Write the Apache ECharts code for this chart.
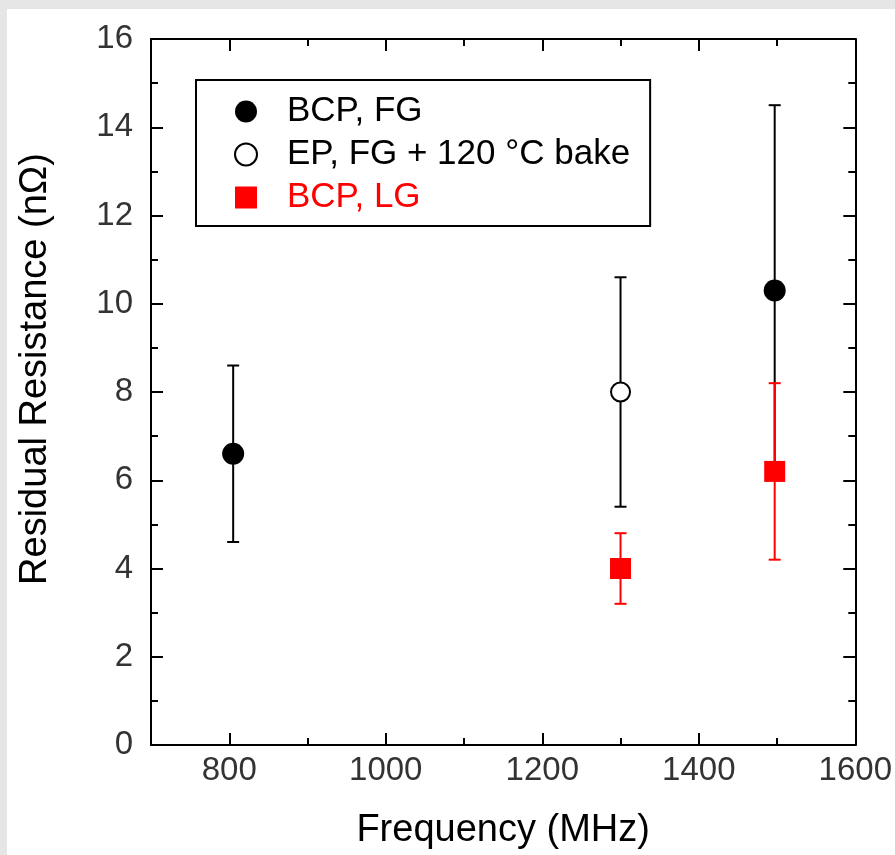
<!DOCTYPE html>
<html>
<head>
<meta charset="utf-8">
<script src="https://cdn.jsdelivr.net/npm/echarts@6/dist/echarts.min.js"></script>
<style>
  html, body { margin: 0; padding: 0; background: #e6e6e6; }
  #main { width: 895px; height: 855px; }
</style>
</head>
<body>
<div id="main"></div>
<script>
// BCP, fine grain
const bcpFgFreq = [805, 1497]
const bcpFgR = [6.6, 10.3]
const bcpFgErr = [2.0, 4.2]
// EP, fine grain + 120 C bake
const epFreq = [1300]
const epR = [8.0]
const epErr = [2.6]
// BCP, large grain
const lgFreq = [1300, 1497]
const lgR = [4.0, 6.2]
const lgErr = [0.8, 2.0]

const xMajor = [800, 1000, 1200, 1400, 1600]
const xMinor = [900, 1100, 1300, 1500]

const font = "'Liberation Sans', Arial, sans-serif"

const points = (xs, ys) => xs.map((x, i) => [x, ys[i]])
const bars = (xs, ys, es) => xs.map((x, i) => [x, ys[i] - es[i], ys[i] + es[i]])

function errorBar(color) {
    return function (params, api) {
        const x = api.value(0)
        const lo = api.coord([x, api.value(1)])
        const hi = api.coord([x, api.value(2)])
        const w = 6
        const style = { stroke: color, lineWidth: 2 }
        return {
            type: 'group',
            children: [
                { type: 'line', shape: { x1: lo[0], y1: lo[1], x2: hi[0], y2: hi[1] }, style },
                { type: 'line', shape: { x1: lo[0] - w, y1: lo[1], x2: lo[0] + w, y2: lo[1] }, style },
                { type: 'line', shape: { x1: hi[0] - w, y1: hi[1], x2: hi[0] + w, y2: hi[1] }, style },
            ]
        }
    }
}

const myChart = echarts.init(document.getElementById('main'))

const lineStyle = { color: '#000', width: 2 }
function xAxisOf(position, ticks, len, main) {
    return {
        type: 'value',
        position: position,
        min: 700,
        max: 1600,
        axisLine: { show: main, onZero: false, lineStyle },
        axisTick: { show: true, inside: true, length: len, customValues: ticks, lineStyle },
        axisLabel: {
            show: main && position === 'bottom',
            customValues: ticks,
            formatter: (v) => String(v),
            fontFamily: font,
            fontSize: 33,
            color: '#333',
            margin: 9,
        },
        splitLine: { show: false },
    }
}
function yAxisOf(position) {
    return {
        type: 'value',
        position: position,
        min: 0,
        max: 16,
        interval: 2,
        axisLine: { show: true, onZero: false, lineStyle },
        axisTick: { show: true, inside: true, length: 12, lineStyle },
        minorTick: { show: true, splitNumber: 2, length: 7, lineStyle },
        axisLabel: {
            show: position === 'left',
            fontFamily: font,
            fontSize: 33,
            color: '#333',
            margin: 18,
        },
        splitLine: { show: false },
    }
}

const xMain = xAxisOf('bottom', xMajor, 12, true)
xMain.name = 'Frequency (MHz)'
xMain.nameLocation = 'middle'
xMain.nameGap = 67
xMain.nameTextStyle = { fontFamily: font, fontSize: 38, color: '#000' }

const yMain = yAxisOf('left')
yMain.name = 'Residual Resistance (nΩ)'
yMain.nameLocation = 'middle'
yMain.nameRotate = 90
yMain.nameGap = 96
yMain.nameTextStyle = { fontFamily: font, fontSize: 38, color: '#000', padding: [0, 0, 0, 46] }

const option = {
    animation: false,
    graphic: [{
        type: 'rect',
        z: -10,
        shape: { x: 7, y: 9, width: 888, height: 846 },
        style: { fill: '#fff' },
    }],
    grid: { left: 151, right: 37, top: 39, bottom: 109 },
    legend: {
        orient: 'vertical',
        left: 196,
        top: 80,
        padding: [14, 20, 11, 38],
        itemWidth: 22,
        itemHeight: 22,
        itemGap: 8,
        borderColor: '#000',
        borderWidth: 2,
        backgroundColor: '#fff',
        textStyle: { fontFamily: font, fontSize: 35, color: '#000', padding: [0, 0, 0, 25] },
        data: [
            { name: 'BCP, FG' },
            { name: 'EP, FG + 120 °C bake' },
            { name: 'BCP, LG', textStyle: { color: '#ff0000', padding: [0, 0, 0, 25] } },
        ],
    },
    xAxis: [
        xMain,
        xAxisOf('bottom', xMinor, 7, false),
        xAxisOf('top', xMajor, 12, true),
        xAxisOf('top', xMinor, 7, false),
    ],
    yAxis: [yMain, yAxisOf('right')],
    series: [
        {
            name: 'errBlack',
            type: 'custom',
            renderItem: errorBar('#000'),
            encode: { x: 0, y: [1, 2] },
            data: bars(bcpFgFreq, bcpFgR, bcpFgErr).concat(bars(epFreq, epR, epErr)),
            z: 1,
        },
        {
            name: 'errRed',
            type: 'custom',
            renderItem: errorBar('#ff0000'),
            encode: { x: 0, y: [1, 2] },
            data: bars(lgFreq, lgR, lgErr),
            z: 2,
        },
        {
            name: 'BCP, FG',
            type: 'scatter',
            symbol: 'circle',
            symbolSize: 22,
            itemStyle: { color: '#000', opacity: 1 },
            data: points(bcpFgFreq, bcpFgR),
            z: 3,
        },
        {
            name: 'EP, FG + 120 °C bake',
            type: 'scatter',
            symbol: 'circle',
            symbolSize: 19,
            itemStyle: { color: '#fff', borderColor: '#000', borderWidth: 2, opacity: 1 },
            data: points(epFreq, epR),
            z: 3,
        },
        {
            name: 'BCP, LG',
            type: 'scatter',
            symbol: 'rect',
            symbolSize: 21,
            itemStyle: { color: '#ff0000', opacity: 1 },
            data: points(lgFreq, lgR),
            z: 3,
        },
    ],
}

myChart.setOption(option)
</script>
</body>
</html>
